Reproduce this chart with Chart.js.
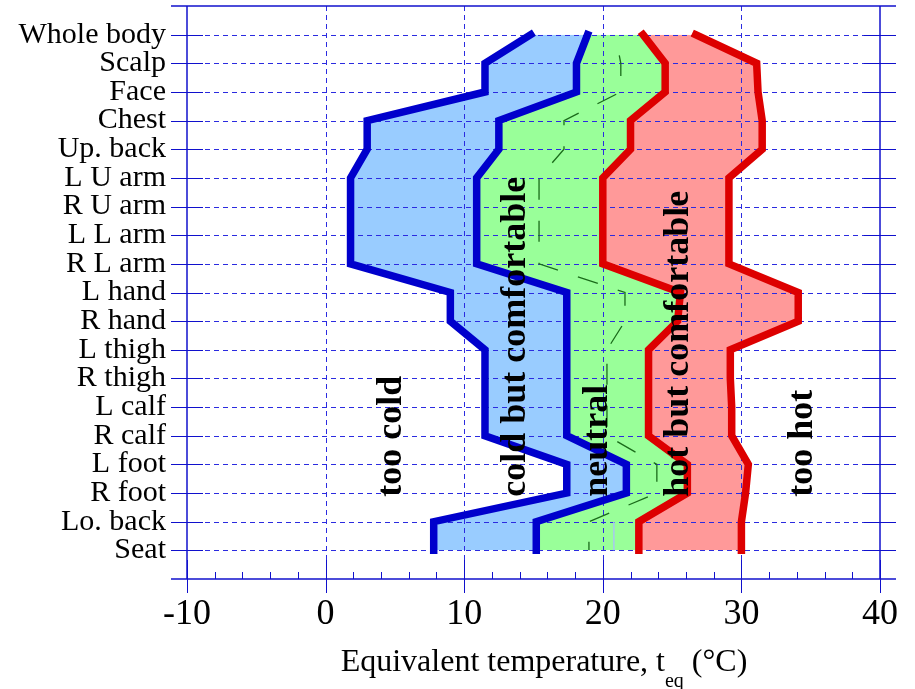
<!DOCTYPE html>
<html>
<head>
<meta charset="utf-8">
<script src="https://cdn.jsdelivr.net/npm/chart.js@4.4.0/dist/chart.umd.min.js"></script>
<style>
  body { margin: 0; background: #fff; }
  canvas { display: block; }
</style>
</head>
<body>
<canvas id="chart" width="915" height="689"></canvas>
<script>
// body zones, top to bottom
var bodyParts = ['Whole body', 'Scalp', 'Face', 'Chest', 'Up. back', 'L U arm', 'R U arm', 'L L arm', 'R L arm',
                 'L hand', 'R hand', 'L thigh', 'R thigh', 'L calf', 'R calf', 'L foot', 'R foot', 'Lo. back', 'Seat'];

// zone limits, equivalent temperature in deg C
var coldLimit = [14.8, 11.5, 11.5, 3.0, 3.0, 1.8, 1.8, 1.8, 1.8, 9.0, 9.0, 11.5, 11.5, 11.5, 11.5, 17.4, 17.4, 7.8, 7.8];
var coolLimit = [18.9, 18.1, 18.1, 12.5, 12.5, 10.9, 10.9, 10.9, 10.9, 17.4, 17.4, 17.4, 17.4, 17.4, 17.4, 21.7, 21.7, 15.2, 15.2];
var warmLimit = [22.9, 24.5, 24.5, 22.0, 22.0, 20.0, 20.0, 20.0, 20.0, 25.6, 25.4, 23.3, 23.3, 23.3, 23.3, 26.1, 26.1, 22.6, 22.6];
var hotLimit  = [26.7, 31.1, 31.2, 31.5, 31.5, 29.1, 29.1, 29.1, 29.1, 34.1, 34.1, 29.2, 29.2, 29.3, 29.3, 30.5, 30.3, 30.0, 30.0];
var neutral   = [20.9, 21.3, 21.3, 17.2, 17.2, 15.4, 15.4, 15.4, 15.4, 21.6, 21.6, 20.3, 20.3, 20.3, 20.3, 23.9, 23.9, 19.0, 19.0];
var seatMark  = [null, null, null, null, null, null, null, null, null, null, null, null, null, null, null, null, null, 20.8, 20.8];

var xTicks = [-10, 0, 10, 20, 30, 40];
var xGrid = [0, 10, 20, 30];

var zoneNames = ['too cold', 'cold but comfortable', 'neutral', 'hot but comfortable', 'too hot'];
var zoneAt = [4.8, 13.7, 19.65, 25.5, 34.4];
var zoneEnd = 16.13;

function pts(vals){
  var out = [];
  for (var i = 0; i < vals.length; i++) {
    if (vals[i] != null) out.push({x: vals[i], y: i});
  }
  return out;
}

// bands: drawn first (high order), no outline
function fillSet(vals, target, color){
  return {data: pts(vals), fill: target, backgroundColor: color, borderColor: 'transparent',
          borderWidth: 0, pointRadius: 0, order: 10};
}
function lineSet(vals, color, width){
  return {data: pts(vals), fill: false, borderColor: color, borderWidth: width, pointRadius: 0,
          borderJoinStyle: 'miter', borderCapStyle: 'square', order: 0};
}

function seg(ctx, x1, y1, x2, y2){
  ctx.beginPath(); ctx.moveTo(x1, y1); ctx.lineTo(x2, y2); ctx.stroke();
}

function drawGrid(chart){
  var ctx = chart.ctx, a = chart.chartArea, xs = chart.scales.x, ys = chart.scales.y;
  ctx.save();
  ctx.lineWidth = 1;
  ctx.strokeStyle = '#2b2be0';
  ctx.setLineDash([5, 4]);
  for (var i = 0; i < bodyParts.length; i++) {
    var y = Math.round(ys.getPixelForValue(i)) + 0.5;
    seg(ctx, a.left, y, a.right, y);
  }
  xGrid.forEach(function(v){
    var x = Math.round(xs.getPixelForValue(v)) + 0.5;
    seg(ctx, x, a.top, x, a.bottom);
  });
  ctx.setLineDash([]);
  ctx.strokeStyle = '#1010cc';
  for (var i = 0; i < bodyParts.length; i++) {
    var y = Math.round(ys.getPixelForValue(i)) + 0.5;
    seg(ctx, a.left - 16, y, a.left + 16, y);
    seg(ctx, a.right - 16, y, a.right + 16, y);
  }
  for (var v = -10; v <= 40; v += 2) {
    var x = Math.round(xs.getPixelForValue(v)) + 0.5;
    if (v % 10 === 0) seg(ctx, x, a.bottom - 19, x, a.bottom + 14);
    else seg(ctx, x, a.bottom - 7, x, a.bottom);
  }
  ctx.lineWidth = 1.5;
  seg(ctx, a.left - 16, a.top, a.right + 16, a.top);
  seg(ctx, a.left - 16, a.bottom, a.right + 16, a.bottom);
  seg(ctx, a.left, a.top, a.left, a.bottom);
  seg(ctx, a.right, a.top, a.right, a.bottom);
  ctx.restore();
}

var gridDone = false;
var frame = {
  id: 'frame',
  beforeDatasetsDraw: function(){ gridDone = false; },
  // grid goes on top of the coloured bands but below the lines
  beforeDatasetDraw: function(chart, args){
    if (gridDone) return;
    if (chart.data.datasets[args.index].order < 10) {
      drawGrid(chart);
      gridDone = true;
    }
  },
  afterDatasetsDraw: function(chart){
    var ctx = chart.ctx, xs = chart.scales.x, ys = chart.scales.y;
    ctx.save();
    ctx.fillStyle = '#000';
    ctx.font = 'bold 36px "Liberation Serif"';
    ctx.textAlign = 'left';
    ctx.textBaseline = 'middle';
    for (var k = 0; k < zoneNames.length; k++) {
      ctx.save();
      ctx.translate(xs.getPixelForValue(zoneAt[k]), ys.getPixelForValue(zoneEnd));
      ctx.rotate(-Math.PI / 2);
      ctx.fillText(zoneNames[k], 0, 0);
      ctx.restore();
    }
    // axis title with subscript
    var main = 'Equivalent temperature, t', sub = 'eq', tail = ' (\u00B0C)';
    ctx.textBaseline = 'alphabetic';
    ctx.font = '32px "Liberation Serif"';
    var w1 = ctx.measureText(main).width, w3 = ctx.measureText(tail).width;
    ctx.font = '20px "Liberation Serif"';
    var w2 = ctx.measureText(sub).width;
    var x0 = 544 - (w1 + w2 + w3) / 2;
    ctx.font = '32px "Liberation Serif"';
    ctx.fillText(main, x0, 671);
    ctx.fillText(tail, x0 + w1 + w2, 671);
    ctx.font = '20px "Liberation Serif"';
    ctx.fillText(sub, x0 + w1, 687);
    ctx.restore();
  }
};

new Chart(document.getElementById('chart'), {
  type: 'line',
  data: {
    datasets: [
      fillSet(coldLimit, false, '#99ccff'),
      fillSet(coolLimit, 0, '#99ccff'),
      fillSet(warmLimit, 1, '#99ff99'),
      fillSet(hotLimit, 2, '#ff9999'),
      {data: pts(neutral), fill: false, borderColor: '#1a6b1a', borderWidth: 1.3, pointRadius: 0,
       borderDash: [21, 21], borderDashOffset: 21, order: 5},
      {data: pts(seatMark), fill: false, borderColor: '#a8c8f0', borderWidth: 1.5, pointRadius: 0, order: 5},
      lineSet(coldLimit, '#0000cc', 7.5),
      lineSet(coolLimit, '#0000cc', 7.5),
      lineSet(warmLimit, '#dd0000', 7.5),
      lineSet(hotLimit, '#dd0000', 7.5)
    ]
  },
  options: {
    indexAxis: 'y',
    responsive: false,
    animation: false,
    devicePixelRatio: 1,
    layout: {padding: {top: 6, right: 35, left: 0, bottom: 0}},
    plugins: {legend: {display: false}, tooltip: {enabled: false}},
    scales: {
      x: {
        type: 'linear', position: 'bottom', min: -10, max: 40,
        grid: {display: false, drawTicks: false},
        border: {display: false},
        afterBuildTicks: function(s){ s.ticks = xTicks.map(function(v){ return {value: v}; }); },
        afterFit: function(s){ s.height = 110; s.paddingLeft = 0; s.paddingRight = 0; },
        ticks: {font: {family: 'Liberation Serif', size: 36}, color: '#000', padding: 14, maxRotation: 0}
      },
      y: {
        type: 'linear', position: 'left', min: -1, max: 19, reverse: true,
        grid: {display: false, drawTicks: false},
        border: {display: false},
        afterBuildTicks: function(s){ s.ticks = bodyParts.map(function(p, i){ return {value: i}; }); },
        afterFit: function(s){ s.width = 187; s.paddingTop = 0; s.paddingBottom = 0; },
        ticks: {
          font: {family: 'Liberation Serif', size: 30}, color: '#000', padding: 21, autoSkip: false,
          callback: function(v){ return bodyParts[v]; }
        }
      }
    }
  },
  plugins: [frame]
});
</script>
</body>
</html>
